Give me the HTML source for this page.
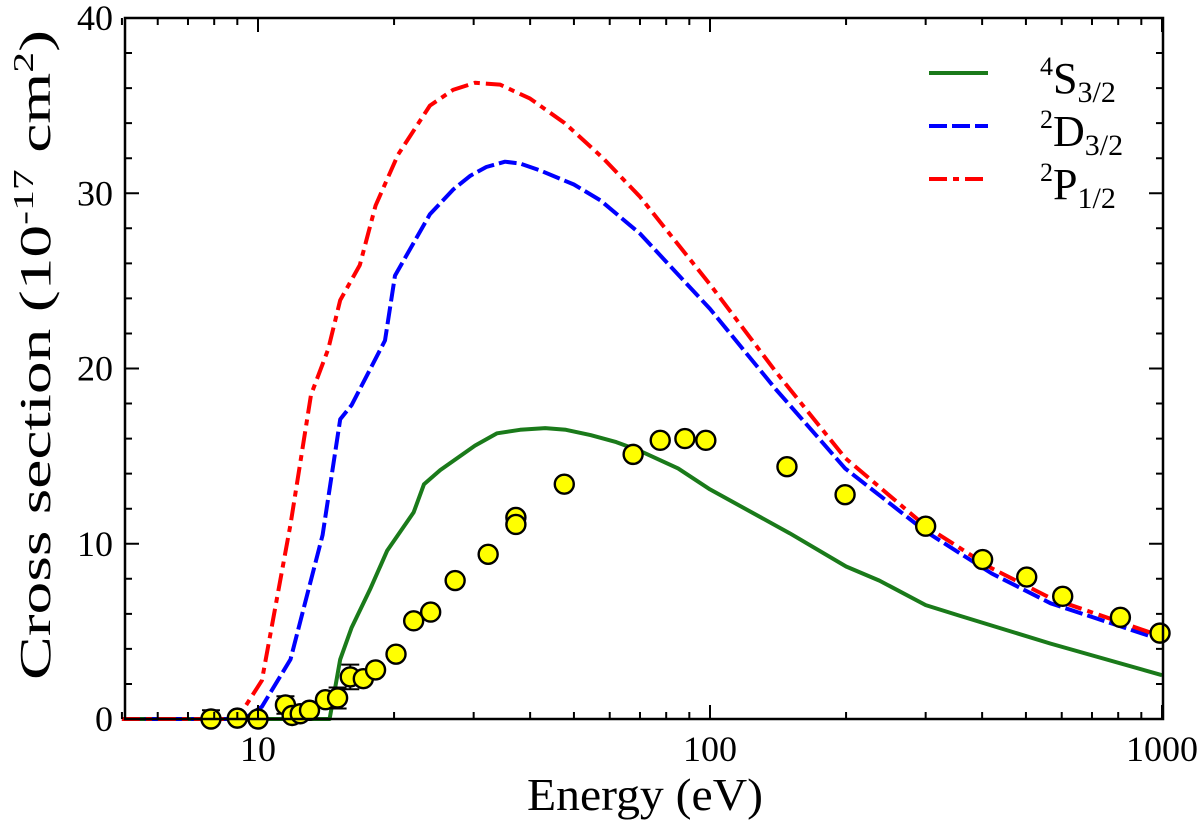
<!DOCTYPE html>
<html><head><meta charset="utf-8"><style>
body{margin:0;background:#fff}
svg{display:block}
text{font-family:"Liberation Serif",serif;fill:#000}
</style></head><body>
<svg id="chart" width="1200" height="834" viewBox="0 0 1200 834" xmlns="http://www.w3.org/2000/svg">
<g id="grid"></g>
<g id="curves"></g>
<g id="points"></g>
<g id="axes"></g>
<g id="legend">
  <line x1="929" y1="73" x2="988" y2="73" stroke="#1a7a1a" stroke-width="4"/>
  <line x1="929" y1="126" x2="988" y2="126" stroke="#0000ff" stroke-width="4" stroke-dasharray="18,5"/>
  <line x1="929" y1="179" x2="988" y2="179" stroke="#ff0000" stroke-width="4" stroke-dasharray="18,6,6,6"/>
  <text x="1040" y="93" font-size="44"><tspan font-size="26" dy="-18">4</tspan><tspan dy="18">S</tspan><tspan font-size="30" dy="9">3/2</tspan></text>
  <text x="1040" y="146" font-size="44"><tspan font-size="26" dy="-18">2</tspan><tspan dy="18">D</tspan><tspan font-size="30" dy="9">3/2</tspan></text>
  <text x="1040" y="199" font-size="44"><tspan font-size="26" dy="-18">2</tspan><tspan dy="18">P</tspan><tspan font-size="30" dy="9">1/2</tspan></text>
</g>
<text x="527" y="810" font-size="46" textLength="236" lengthAdjust="spacingAndGlyphs">Energy (eV)</text>
<text transform="translate(50,680) rotate(-90)" font-size="44" textLength="650" lengthAdjust="spacingAndGlyphs">Cross section (10<tspan font-size="28" dy="-17">-17</tspan><tspan dy="17"> cm</tspan><tspan font-size="28" dy="-17">2</tspan><tspan dy="17">)</tspan></text>
</svg>
<script>
const xTicks=[10,100,1000];
const yTicks=[0,10,20,30,40];
const expE=[7.87,9.0,10,11.5,11.9,12.4,13.0,14.1,15.0,16.0,17.1,18.2,20.2,22.1,24.1,27.3,32.3,37.2,37.2,47.6,67.6,77.6,88.0,97.9,148,199,300,401,502,603,809,990];
const expV=[0,0.05,0,0.8,0.2,0.3,0.5,1.1,1.2,2.4,2.3,2.8,3.7,5.6,6.1,7.9,9.4,11.5,11.1,13.4,15.1,15.9,16.0,15.9,14.4,12.8,11.0,9.1,8.1,7.0,5.8,4.9];
const expErr=[0.5,0,0.3,0.5,0,0,0,0,0.6,0.7,0,0,0,0,0,0,0,0,0,0,0,0,0,0,0,0,0,0,0,0,0,0];
const sE=[5,14.4,15.2,16.1,17.7,19.3,22.1,23.3,25.3,30.2,33.8,38,43.2,48,54.4,62,70,85,100,150,200,237,300,356,567,1000];
const sV=[0,0,3.4,5.2,7.4,9.6,11.8,13.4,14.2,15.6,16.3,16.5,16.6,16.5,16.2,15.8,15.3,14.3,13.1,10.6,8.7,7.9,6.5,5.9,4.3,2.5];
const dE=[5,9.3,10.2,11.8,13.9,15.2,16.1,19.1,20.1,24,27,29.5,32,35.2,38,42.1,50,57.2,70,100,140,199,300,420,567,1000];
const dV=[0,0,0.7,3.4,10.5,17.1,17.9,21.6,25.3,28.8,30.2,31.0,31.5,31.8,31.7,31.3,30.5,29.6,27.7,23.4,18.8,14.3,10.7,8.3,6.6,4.5];
const pE=[5,9.0,10.2,11.8,13.1,14.3,15.2,16.8,18.2,20.4,24,27,30.2,34.3,40,47.7,58,70,100,140,199,300,420,567,1000];
const pV=[0,0,2.2,11.1,18.5,21.1,23.9,25.9,29.3,32.2,35.0,35.9,36.3,36.2,35.4,34.0,32.0,29.8,24.8,19.8,14.9,11.0,8.6,6.9,4.7];

const L=125,R=1163,T=18,B=719;
const X=e=>258+452*Math.log10(e/10);
const Y=v=>B-(B-T)*v/40;
const NS='http://www.w3.org/2000/svg';
function mk(tag,parent,attrs){const el=document.createElementNS(NS,tag);for(const k in attrs)el.setAttribute(k,attrs[k]);parent.appendChild(el);return el;}

const curves=document.getElementById('curves');
function curve(E,V,color,dash,name){
  const d=E.map((e,i)=>(i?'L':'M')+X(e).toFixed(1)+','+Y(V[i]).toFixed(1)).join('');
  const p=mk('path',curves,{d:d,fill:'none',stroke:color,'stroke-width':4,'stroke-dasharray':dash,'stroke-linejoin':'round'});
  
  
}
curve(sE,sV,'#1a7a1a','none','curve-4s');
curve(dE,dV,'#0000ff','18,5','curve-2d');
curve(pE,pV,'#ff0000','18,6,6,6','curve-2p');

const pts=document.getElementById('points');
expE.forEach((e,i)=>{
  const cx=X(e),cy=Y(expV[i]);
  if(expErr[i]>0){
    const y1=Y(expV[i]+expErr[i]),y2=Y(Math.max(0,expV[i]-expErr[i]));
    const eb=mk('path',pts,{d:`M${cx},${y1}V${y2}M${cx-9},${y1}H${cx+9}M${cx-9},${y2}H${cx+9}`,stroke:'#000','stroke-width':2,fill:'none'});
    
    
  }
  const c=mk('circle',pts,{cx:cx,cy:cy,r:9.5,fill:'#ffff00',stroke:'#000','stroke-width':2.4});
  
  
});

const ax=document.getElementById('axes');
const frame=mk('rect',ax,{x:L,y:T,width:R-L,height:B-T,fill:'none',stroke:'#000','stroke-width':2.5});


let td='';
for(let v=0;v<=40;v+=2){const y=Y(v),len=v%10===0?14:7;td+=`M${L},${y}h${len}M${R},${y}h${-len}`;}
for(let dec=1;dec<=1000;dec*=10){for(let m=1;m<10;m++){const e=dec*m;if(e<5||e>1000)continue;const x=X(e),len=m===1?14:7;td+=`M${x},${B}v${-len}M${x},${T}v${len}`;}}
const tk=mk('path',ax,{d:td,stroke:'#000','stroke-width':2,fill:'none'});


yTicks.forEach(v=>{
  const t=mk('text',ax,{x:L-12,y:Y(v)+12,'font-size':36,'text-anchor':'end'});
  t.textContent=v;
  
  
});
xTicks.forEach(e=>{
  const t=mk('text',ax,{x:X(e),y:B+42,'font-size':36,'text-anchor':'middle'});
  t.textContent=e;
  
  
});
</script>
</body></html>
